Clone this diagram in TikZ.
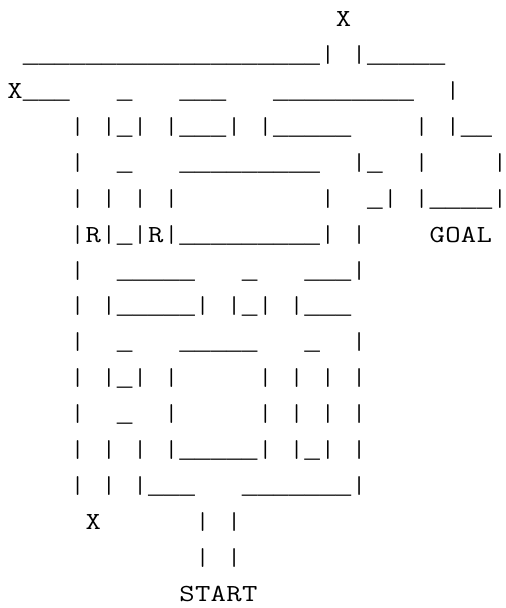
\documentclass[tikz,border=0pt]{standalone}
\usepackage{fontspec}
\newfontfamily\lmX[FakeStretch=1.216]{lmmono12-regular.otf}
\newfontfamily\lmU{Liberation Mono}
\newfontfamily\lmB{lmmono12-regular.otf}
\newlength\gridw \setlength\gridw{15.64pt}
\newlength\ushift \setlength\ushift{0pt}
\newcommand\Ubox{\makebox[\gridw][c]{\raisebox{\ushift}{\lmU\fontsize{26.07}{30}\selectfont\_}}}
\newcommand\Bbox{\makebox[\gridw][c]{\lmB|}}
\newcommand\Cbox[1]{\makebox[\gridw][c]{\lmX #1}}
\makeatletter
\newcommand\row[1]{\@rowloop#1\@nil}
\def\@rowloop#1{\ifx#1\@nil\else\@rowchar#1\expandafter\@rowloop\fi}
\def\@rowchar#1{\ifx#1.\hspace*{\gridw}\else\ifx#1_\Ubox\else\ifx#1|\Bbox\else\Cbox{#1}\fi\fi\fi}
\makeatother
\tikzset{row/.style={anchor=base west, inner sep=0pt, outer sep=0pt,
  font=\lmX\fontsize{24.5}{30}\selectfont, text=black}}
\begin{document}
\begin{tikzpicture}[x=1pt,y=1pt]
\useasboundingbox (0,0) rectangle (506,-608);
\def\cw{15.64}
\def\lh{35.9}
\def\bz{26.7}
\node[row] (r0)  at ({7.3+21*\cw},{-\bz-0*\lh}) {\row{X}};
\node[row] (r1)  at ({7.3+1*\cw},{-\bz-1*\lh}) {\row{___________________|.|_____}};
\node[row] (r2)  at ({7.3+0*\cw},{-\bz-2*\lh}) {\row{X___..._...___..._________..|}};
\node[row] (r3)  at ({7.3+4*\cw},{-\bz-3*\lh}) {\row{|.|_|.|___|.|_____....|.|__}};
\node[row] (r4)  at ({7.3+4*\cw},{-\bz-4*\lh}) {\row{|.._..._________..|_..|....|}};
\node[row] (r5)  at ({7.3+4*\cw},{-\bz-5*\lh}) {\row{|.|.|.|.........|.._|.|____|}};
\node[row] (r6)  at ({7.3+4*\cw},{-\bz-6*\lh}) {\row{|R|_|R|_________|.|....GOAL}};
\node[row] (r7)  at ({7.3+4*\cw},{-\bz-7*\lh}) {\row{|.._____..._...___|}};
\node[row] (r8)  at ({7.3+4*\cw},{-\bz-8*\lh}) {\row{|.|_____|.|_|.|___}};
\node[row] (r9)  at ({7.3+4*\cw},{-\bz-9*\lh}) {\row{|.._..._____..._..|}};
\node[row] (r10) at ({7.3+4*\cw},{-\bz-10*\lh}) {\row{|.|_|.|.....|.|.|.|}};
\node[row] (r11) at ({7.3+4*\cw},{-\bz-11*\lh}) {\row{|.._..|.....|.|.|.|}};
\node[row] (r12) at ({7.3+4*\cw},{-\bz-12*\lh}) {\row{|.|.|.|_____|.|_|.|}};
\node[row] (r13) at ({7.3+4*\cw},{-\bz-13*\lh}) {\row{|.|.|___..._______|}};
\node[row] (r14) at ({7.3+5*\cw},{-\bz-14*\lh}) {\row{X......|.|}};
\node[row] (r15) at ({7.3+12*\cw},{-\bz-15*\lh}) {\row{|.|}};
\node[row] (r16) at ({7.3+11*\cw},{-\bz-16*\lh}) {\row{START}};
\end{tikzpicture}
\end{document}
